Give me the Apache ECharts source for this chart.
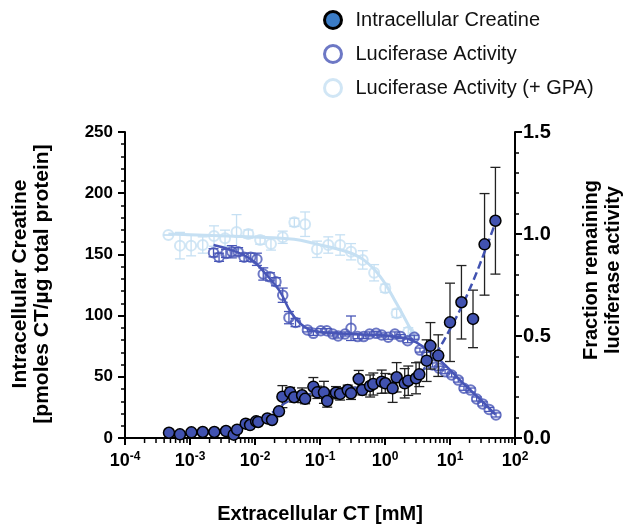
<!DOCTYPE html>
<html>
<head>
<meta charset="utf-8">
<script src="https://cdn.jsdelivr.net/npm/echarts@6/dist/echarts.min.js"></script>
<style>
  html, body { margin: 0; padding: 0; background: #fff; }
  #chart { width: 625px; height: 526px; }
</style>
</head>
<body>
<div id="chart"></div>
<script>
// intracellular creatine, left axis (x in mM)
var ctX   = [4.75e-4, 7.0e-4, 1.05e-3, 1.57e-3, 2.37e-3, 3.58e-3, 4.7e-3, 5.3e-3, 7.2e-3, 8.4e-3,
             1.04e-2, 1.12e-2, 1.55e-2, 1.83e-2, 2.34e-2, 2.64e-2, 3.47e-2, 4.0e-2, 5.3e-2, 5.9e-2,
             7.9e-2, 9.1e-2, 0.115, 0.129, 0.176, 0.204, 0.267, 0.30, 0.394, 0.447,
             0.59, 0.66, 0.89, 1.01, 1.31, 1.51, 2.01, 2.28, 3.0, 3.37,
             4.37, 5.0, 6.6, 10, 15, 22.6, 34, 50];
var ctY   = [4.3, 3.0, 4.6, 4.9, 4.9, 5.7, 2.7, 6.8, 11.7, 10.6,
             13.6, 13.1, 16, 14.7, 21.8, 33.8, 37.3, 33.3, 34.9, 32,
             41.9, 37.3, 37.3, 30.2, 37, 36, 39.2, 36.5, 48.2, 39.2,
             42.5, 44.1, 46, 44.7, 40.6, 49.6, 44.7, 46.8, 48.8, 52,
             63.2, 75.3, 67.3, 94.5, 110.9, 97.3, 158.2, 177.5];
var ctErr = [1, 1, 1, 1, 1, 1.5, 1, 1.5, 2, 2,
             2, 2, 2, 2, 2, 9, 4, 4, 6, 4,
             7.5, 5, 9, 5, 5, 5, 4, 5, 7, 4,
             9, 9, 9.5, 8, 11.5, 12, 12, 12, 12.7, 10,
             17, 19, 17, 32, 30, 23.5, 41.5, 43.6];
var ctFitX = [4.7e-4, 1e-3, 2e-3, 3.5e-3, 5e-3, 7e-3, 1e-2, 1.5e-2, 2e-2, 3e-2, 5e-2, 0.1,
              0.3, 1, 2, 3.2, 4.6, 6.6, 10, 15, 23, 34, 50];
var ctFitY = [2.5, 3, 3.8, 4.5, 6, 9, 13.5, 18, 22, 29, 34, 37.5,
              40.5, 44.5, 47.5, 51, 61, 72, 89, 107, 129, 152, 176];

// luciferase activity, right axis (fraction remaining)
var lucX   = [2.3e-3, 2.8e-3, 3.58e-3, 4.4e-3, 5.5e-3, 6.8e-3, 8.6e-3, 1.07e-2, 1.34e-2, 1.7e-2,
              2.1e-2, 2.67e-2, 3.33e-2, 4.2e-2, 6.4e-2, 7.9e-2, 0.103, 0.127, 0.157, 0.19,
              0.243, 0.30, 0.38, 0.47, 0.58, 0.73, 0.89, 1.12, 1.42, 1.74,
              2.23, 2.82, 3.45, 4.37, 5.4, 6.8, 8.4, 10.6, 13.4, 16.4,
              20.8, 25.7, 31.8, 40, 51];
var lucY   = [0.908, 0.886, 0.905, 0.913, 0.913, 0.886, 0.886, 0.876, 0.804, 0.79,
              0.766, 0.70, 0.59, 0.566, 0.53, 0.513, 0.526, 0.526, 0.51, 0.50,
              0.51, 0.538, 0.497, 0.497, 0.51, 0.513, 0.505, 0.494, 0.51, 0.497,
              0.477, 0.494, 0.431, 0.41, 0.358, 0.342, 0.325, 0.309, 0.284, 0.244,
              0.235, 0.191, 0.167, 0.14, 0.113];
var lucErr = [0.02, 0.02, 0.02, 0.03, 0.02, 0.02, 0.02, 0.03, 0.03, 0.02,
              0.02, 0.035, 0.03, 0.02, 0.01, 0.01, 0.01, 0.01, 0.01, 0.01,
              0.01, 0.06, 0.01, 0.01, 0.01, 0.01, 0.01, 0.01, 0.01, 0.01,
              0.01, 0.01, 0.01, 0.01, 0.01, 0.01, 0.01, 0.01, 0.01, 0.01,
              0.01, 0.01, 0.01, 0.01, 0.01];
var lucFitX = [2.3e-3, 4e-3, 6.7e-3, 1e-2, 1.5e-2, 2.4e-2, 3.5e-2, 5e-2, 7e-2, 0.1,
               0.3, 0.8, 1.5, 2.6, 5, 8.9, 15.7, 29, 50];
var lucFitY = [0.946, 0.925, 0.897, 0.86, 0.80, 0.72, 0.62, 0.56, 0.53, 0.52,
               0.51, 0.505, 0.495, 0.48, 0.42, 0.35, 0.27, 0.19, 0.115];

// luciferase activity + GPA, right axis
var gpaX   = [4.65e-4, 7.0e-4, 1.04e-3, 1.57e-3, 2.34e-3, 3.46e-3, 5.2e-3, 7.9e-3, 1.2e-2, 1.76e-2,
              2.67e-2, 4.03e-2, 5.9e-2, 9e-2, 0.134, 0.204, 0.30, 0.454, 0.68, 1.01,
              1.51, 2.28, 2.72];
var gpaY   = [0.995, 0.943, 0.943, 0.946, 0.99, 0.979, 1.01, 1.0, 0.97, 0.951,
              0.984, 1.057, 1.048, 0.925, 0.946, 0.946, 0.913, 0.873, 0.81, 0.734,
              0.611, 0.521, 0.497];
var gpaErr = [0, 0.065, 0.05, 0.04, 0.05, 0.04, 0.085, 0.02, 0.02, 0.03,
              0.03, 0.02, 0.06, 0.04, 0.04, 0.05, 0.04, 0.045, 0.04, 0.02,
              0.02, 0.02, 0];
var gpaFitX = [4.65e-4, 1e-2, 4e-2, 8e-2, 0.26, 0.47, 0.85, 1.5, 2.8];
var gpaFitY = [1.0, 0.985, 0.974, 0.954, 0.913, 0.873, 0.79, 0.66, 0.50];

var xMinorTicks = [];
[1e-4, 1e-3, 1e-2, 1e-1, 1, 10].forEach(function (d) {
    for (var m = 2; m <= 9; m++) xMinorTicks.push([m * d, 0]);
});

var cDark = '#4152b0', cLuc = '#4856b7', cGpa = '#c6e0f3';
var font = 'Liberation Sans, Arial, sans-serif';

function pts(xs, ys) {
    return xs.map(function (x, i) { return [x, ys[i]]; });
}
function bars(xs, ys, es) {
    return xs.map(function (x, i) { return [x, ys[i] - es[i], ys[i] + es[i]]; });
}
function errRender(color) {
    return function (params, api) {
        var x = api.value(0);
        var top = api.coord([x, api.value(2)]);
        var bot = api.coord([x, api.value(1)]);
        var w = 5, st = { stroke: color, lineWidth: 1.3 };
        return {
            type: 'group',
            children: [
                { type: 'line', shape: { x1: top[0], y1: top[1], x2: bot[0], y2: bot[1] }, style: st },
                { type: 'line', shape: { x1: top[0] - w, y1: top[1], x2: top[0] + w, y2: top[1] }, style: st },
                { type: 'line', shape: { x1: bot[0] - w, y1: bot[1], x2: bot[0] + w, y2: bot[1] }, style: st }
            ]
        };
    };
}

var chart = echarts.init(document.getElementById('chart'));
var option = {
    animation: false,
    backgroundColor: '#fff',
    grid: { left: 125, right: 110, top: 132, bottom: 88, containLabel: false },
    legend: {
        orient: 'vertical',
        left: 318,
        top: 5,
        itemWidth: 17,
        itemHeight: 17,
        itemGap: 14,
        icon: 'circle',
        selectedMode: false,
        textStyle: { fontFamily: font, fontSize: 20, lineHeight: 20, color: '#111', padding: [0, 0, 0, 9] },
        data: [
            { name: 'Intracellular Creatine', itemStyle: { color: '#3b7cc6', borderColor: '#000', borderWidth: 3 } },
            { name: 'Luciferase Activity', itemStyle: { color: '#fff', borderColor: cLuc, borderWidth: 3 } },
            { name: 'Luciferase Activity (+ GPA)', itemStyle: { color: '#fff', borderColor: cGpa, borderWidth: 3 } }
        ]
    },
    xAxis: {
        type: 'log',
        logBase: 10,
        min: 1e-4,
        max: 100,
        axisLine: { lineStyle: { color: '#000', width: 2 } },
        axisTick: { length: 7, lineStyle: { color: '#000', width: 2 } },
        splitLine: { show: false },
        axisLabel: {
            margin: 13,
            formatter: function (v) {
                var e = Math.round(Math.log(v) / Math.LN10);
                return '{b|10}{s|' + e + '}';
            },
            rich: {
                b: { fontFamily: font, fontSize: 18, fontWeight: 'bold', color: '#000' },
                s: { fontFamily: font, fontSize: 12, fontWeight: 'bold', color: '#000', padding: [0, 0, 9, 0] }
            }
        }
    },
    yAxis: [{
        type: 'value', min: 0, max: 250, interval: 50,
        axisLine: { show: true, lineStyle: { color: '#000', width: 2 } },
        axisTick: { show: true, length: 7, lineStyle: { color: '#000', width: 2 } },
        minorTick: { show: true, splitNumber: 5, length: 4, lineStyle: { color: '#000', width: 1.5 } },
        splitLine: { show: false },
        axisLabel: { margin: 12, fontFamily: font, fontSize: 17, fontWeight: 'bold', color: '#000' }
    }, {
        type: 'value', min: 0, max: 1.5, interval: 0.5, position: 'right',
        axisLine: { show: true, lineStyle: { color: '#000', width: 2 } },
        axisTick: { show: true, length: 7, lineStyle: { color: '#000', width: 2 } },
        minorTick: { show: true, splitNumber: 5, length: 4, lineStyle: { color: '#000', width: 1.5 } },
        splitLine: { show: false },
        axisLabel: {
            margin: 8, fontFamily: font, fontSize: 20, fontWeight: 'bold', color: '#000',
            formatter: function (v) { return v.toFixed(1); }
        }
    }],
    graphic: [
        { type: 'text', x: 31, y: 284, rotation: Math.PI / 2,
          style: { text: 'Intracellular Creatine\n[pmoles CT/µg total protein]', fontFamily: font,
                   fontSize: 21, fontWeight: 'bold', fill: '#000', align: 'center', verticalAlign: 'middle', lineHeight: 22 } },
        { type: 'text', x: 602, y: 270, rotation: Math.PI / 2,
          style: { text: 'Fraction remaining\nluciferase activity', fontFamily: font,
                   fontSize: 20, fontWeight: 'bold', fill: '#000', align: 'center', verticalAlign: 'middle', lineHeight: 22 } },
        { type: 'text', x: 320, y: 514,
          style: { text: 'Extracellular CT [mM]', fontFamily: font, fontSize: 20, fontWeight: 'bold',
                   fill: '#000', align: 'center', verticalAlign: 'middle' } }
    ],
    series: [
        { type: 'custom', name: 'xminor', silent: true, clip: false, yAxisIndex: 0, data: xMinorTicks,
          renderItem: function (params, api) {
              var p = api.coord([api.value(0), 0]);
              return { type: 'line', shape: { x1: p[0], y1: p[1], x2: p[0], y2: p[1] + 5 },
                       style: { stroke: '#000', lineWidth: 1.5 } };
          } },
        // + GPA
        { type: 'line', name: 'gpaFit', yAxisIndex: 1, data: pts(gpaFitX, gpaFitY), smooth: 0.4,
          showSymbol: false, silent: true, lineStyle: { color: cGpa, width: 3 }, z: 2 },
        { type: 'custom', name: 'gpaErr', yAxisIndex: 1, data: bars(gpaX, gpaY, gpaErr),
          renderItem: errRender(cGpa), silent: true, z: 2 },
        { type: 'scatter', name: 'Luciferase Activity (+ GPA)', yAxisIndex: 1, data: pts(gpaX, gpaY),
          symbolSize: 10, itemStyle: { color: 'rgba(255,255,255,0)', borderColor: cGpa, borderWidth: 2 }, z: 3 },
        // luciferase
        { type: 'line', name: 'lucFit', yAxisIndex: 1, data: pts(lucFitX, lucFitY), smooth: 0.4,
          showSymbol: false, silent: true, lineStyle: { color: cLuc, width: 2.5 }, z: 4 },
        { type: 'custom', name: 'lucErr', yAxisIndex: 1, data: bars(lucX, lucY, lucErr),
          renderItem: errRender(cLuc), silent: true, z: 4 },
        { type: 'scatter', name: 'Luciferase Activity', yAxisIndex: 1, data: pts(lucX, lucY),
          symbolSize: 9.5, itemStyle: { color: 'rgba(255,255,255,0)', borderColor: cLuc, borderWidth: 2 }, z: 5 },
        // creatine
        { type: 'line', name: 'ctFit', yAxisIndex: 0, data: pts(ctFitX, ctFitY), smooth: 0.4,
          showSymbol: false, silent: true, lineStyle: { color: cDark, width: 2.5, type: [8, 4] }, z: 6 },
        { type: 'custom', name: 'ctErr', yAxisIndex: 0, data: bars(ctX, ctY, ctErr),
          renderItem: errRender('#222'), silent: true, z: 6 },
        { type: 'scatter', name: 'Intracellular Creatine', yAxisIndex: 0, data: pts(ctX, ctY),
          symbolSize: 11, itemStyle: { color: cDark, borderColor: '#000', borderWidth: 1.5, opacity: 1 }, z: 7 }
    ]
};
chart.setOption(option);
</script>
</body>
</html>
